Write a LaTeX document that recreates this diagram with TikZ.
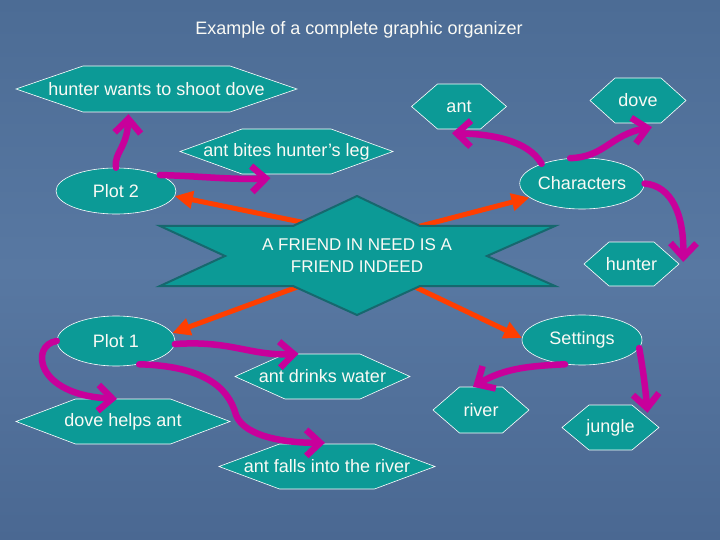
\documentclass[tikz,border=0pt]{standalone}
\usepackage{fontspec}
\setmainfont{Liberation Sans}
\usetikzlibrary{arrows.meta,shapes.geometric,calc}
\pgfdeclarelayer{bg}\pgfdeclarelayer{mid}
\pgfsetlayers{bg,mid,main}
\definecolor{tealfill}{RGB}{12,154,150}
\definecolor{tealdark}{RGB}{22,104,110}
\definecolor{mag}{RGB}{200,0,155}
\definecolor{orng}{RGB}{255,62,0}
\definecolor{bgtop}{RGB}{76,108,149}
\definecolor{bgmid}{RGB}{88,120,162}
\definecolor{bgbot}{RGB}{74,104,146}
\definecolor{txt}{RGB}{250,250,245}
% name, cx, cy, half flat width, tip depth, half height, text
\newcommand\hexnode[7]{%
  \draw[hexsty] ({#2-#4-#5},#3) -- ({#2-#4},{#3-#6}) -- ({#2+#4},{#3-#6}) -- ({#2+#4+#5},#3) -- ({#2+#4},{#3+#6}) -- ({#2-#4},{#3+#6}) -- cycle;
  \node[lbl, minimum width={2*(#4+#5)}, minimum height={2*#6}] (#1) at (#2,#3) {#7};
}
\begin{document}
\begin{tikzpicture}[x=1pt,y=-1pt,
  font=\fontsize{18}{21}\selectfont,
  hexsty/.style={fill=tealfill, draw=white, line width=0.6pt},
  lbl/.style={shape=rectangle, inner sep=0pt, text=txt},
  ell/.style={ellipse, fill=tealfill, draw=white, line width=0.6pt, inner sep=0pt, text=txt},
  magarrow/.style={draw=mag, line width=6.5pt, line cap=round, -{Straight Barb[length=14pt,width=26pt]}},
  orarrow/.style={draw=orng, line width=5pt, -{Triangle[length=18pt,width=17pt]}},
  starsty/.style={fill=tealfill, draw=tealdark, line width=2pt, line join=miter}]

\begin{pgfonlayer}{bg}
  \shade[top color=bgtop, bottom color=bgbot, middle color=bgmid] (0,0) rectangle (720,540);
\end{pgfonlayer}
\useasboundingbox (0,0) rectangle (720,540);

\node[lbl] (title) at (359,30) {Example of a complete graphic organizer};

% hexagons
\hexnode{hwant}{156.5}{89}{73.5}{67}{23}{hunter wants to shoot dove}
\hexnode{antbites}{286.5}{151.5}{44.5}{62}{22.5}{ant bites hunter’s leg}
\hexnode{ant}{459}{106.5}{21.5}{26}{22.5}{ant}
\hexnode{dove}{638}{100.5}{23}{25}{22.5}{dove}
\hexnode{hunter}{631.5}{264}{22.5}{25}{22}{hunter}
\hexnode{drinks}{322.5}{376.5}{37.5}{50}{22.5}{ant drinks water}
\hexnode{helps}{123}{421.5}{47.5}{59.5}{22.5}{dove helps ant}
\hexnode{falls}{327}{466.5}{47.5}{60.5}{22.5}{ant falls into the river}
\hexnode{river}{481}{410}{21.5}{26.5}{23}{river}
\hexnode{jungle}{610.5}{427.5}{21.5}{27}{22.5}{jungle}

% ellipses
\node[ell, minimum width=120, minimum height=46] (plottwo) at (116,191) {Plot 2};
\node[ell, minimum width=120, minimum height=51] (charac) at (582,183.5) {Characters};
\node[ell, minimum width=120, minimum height=50] (sett) at (582,340) {Settings};
\node[ell, minimum width=118, minimum height=50] (plotone) at (116,341) {Plot 1};

% central star
\draw[starsty] (160,226) -- (293,226) -- (357,196) -- (420,226) -- (555,226) -- (487,256) -- (555,286) -- (420,286) -- (357,315) -- (293,286) -- (160,286) -- (225,256) -- cycle;
\node[lbl, align=center, font=\fontsize{17}{22}\selectfont] (star) at (357,256) {A FRIEND IN NEED IS A\\FRIEND INDEED};

% orange arrows (behind the star)
\begin{pgfonlayer}{mid}
  \draw[orarrow] ($(star)+(-22,-27)$) -- (plottwo.-5);
  \draw[orarrow] ($(star)+(33,-22)$) -- (charac.195);
  \draw[orarrow] ($(star)+(-27,19)$) -- (plotone.8);
  \draw[orarrow] ($(star)+(33,19)$) -- (sett.178);
\end{pgfonlayer}

% magenta arrows
\draw[magarrow] (plottwo.north) .. controls (114,152) and (127,148) .. ($(hwant.south)+(-28,2)$);
\draw[magarrow] (plottwo.20) .. controls (200,176) and (230,180) .. ($(antbites.south)+(-16,4)$);
\draw[magarrow] (charac.154) .. controls (528,140) and (490,134) .. ($(ant.south)+(-7,4)$);
\draw[magarrow] (charac.115) .. controls (605,157) and (610,135) .. ($(dove.south)+(14,4)$);
\draw[magarrow] (charac.east) .. controls (672,186) and (684,215) .. ($(hunter.east)+(4,-2)$);
\draw[magarrow] (plotone.-3) .. controls (230,340) and (250,356) .. ($(drinks.north)+(-24,0)$);
\draw[magarrow] (plotone.west) .. controls (30,345) and (35,395) .. ($(helps.north)+(-6,0)$);
\draw[magarrow] (plotone.-45) .. controls (200,366) and (228,385) .. (236,415) .. controls (245,438) and (290,443) .. ($(falls.north)+(-2,-1)$);
\draw[magarrow] (sett.235) .. controls (530,366) and (505,368) .. ($(river.north)+(-8,0)$);
\draw[magarrow] (sett.-8) .. controls (644,375) and (646,395) .. ($(jungle.north)+(37,8)$);
\end{tikzpicture}
\end{document}
